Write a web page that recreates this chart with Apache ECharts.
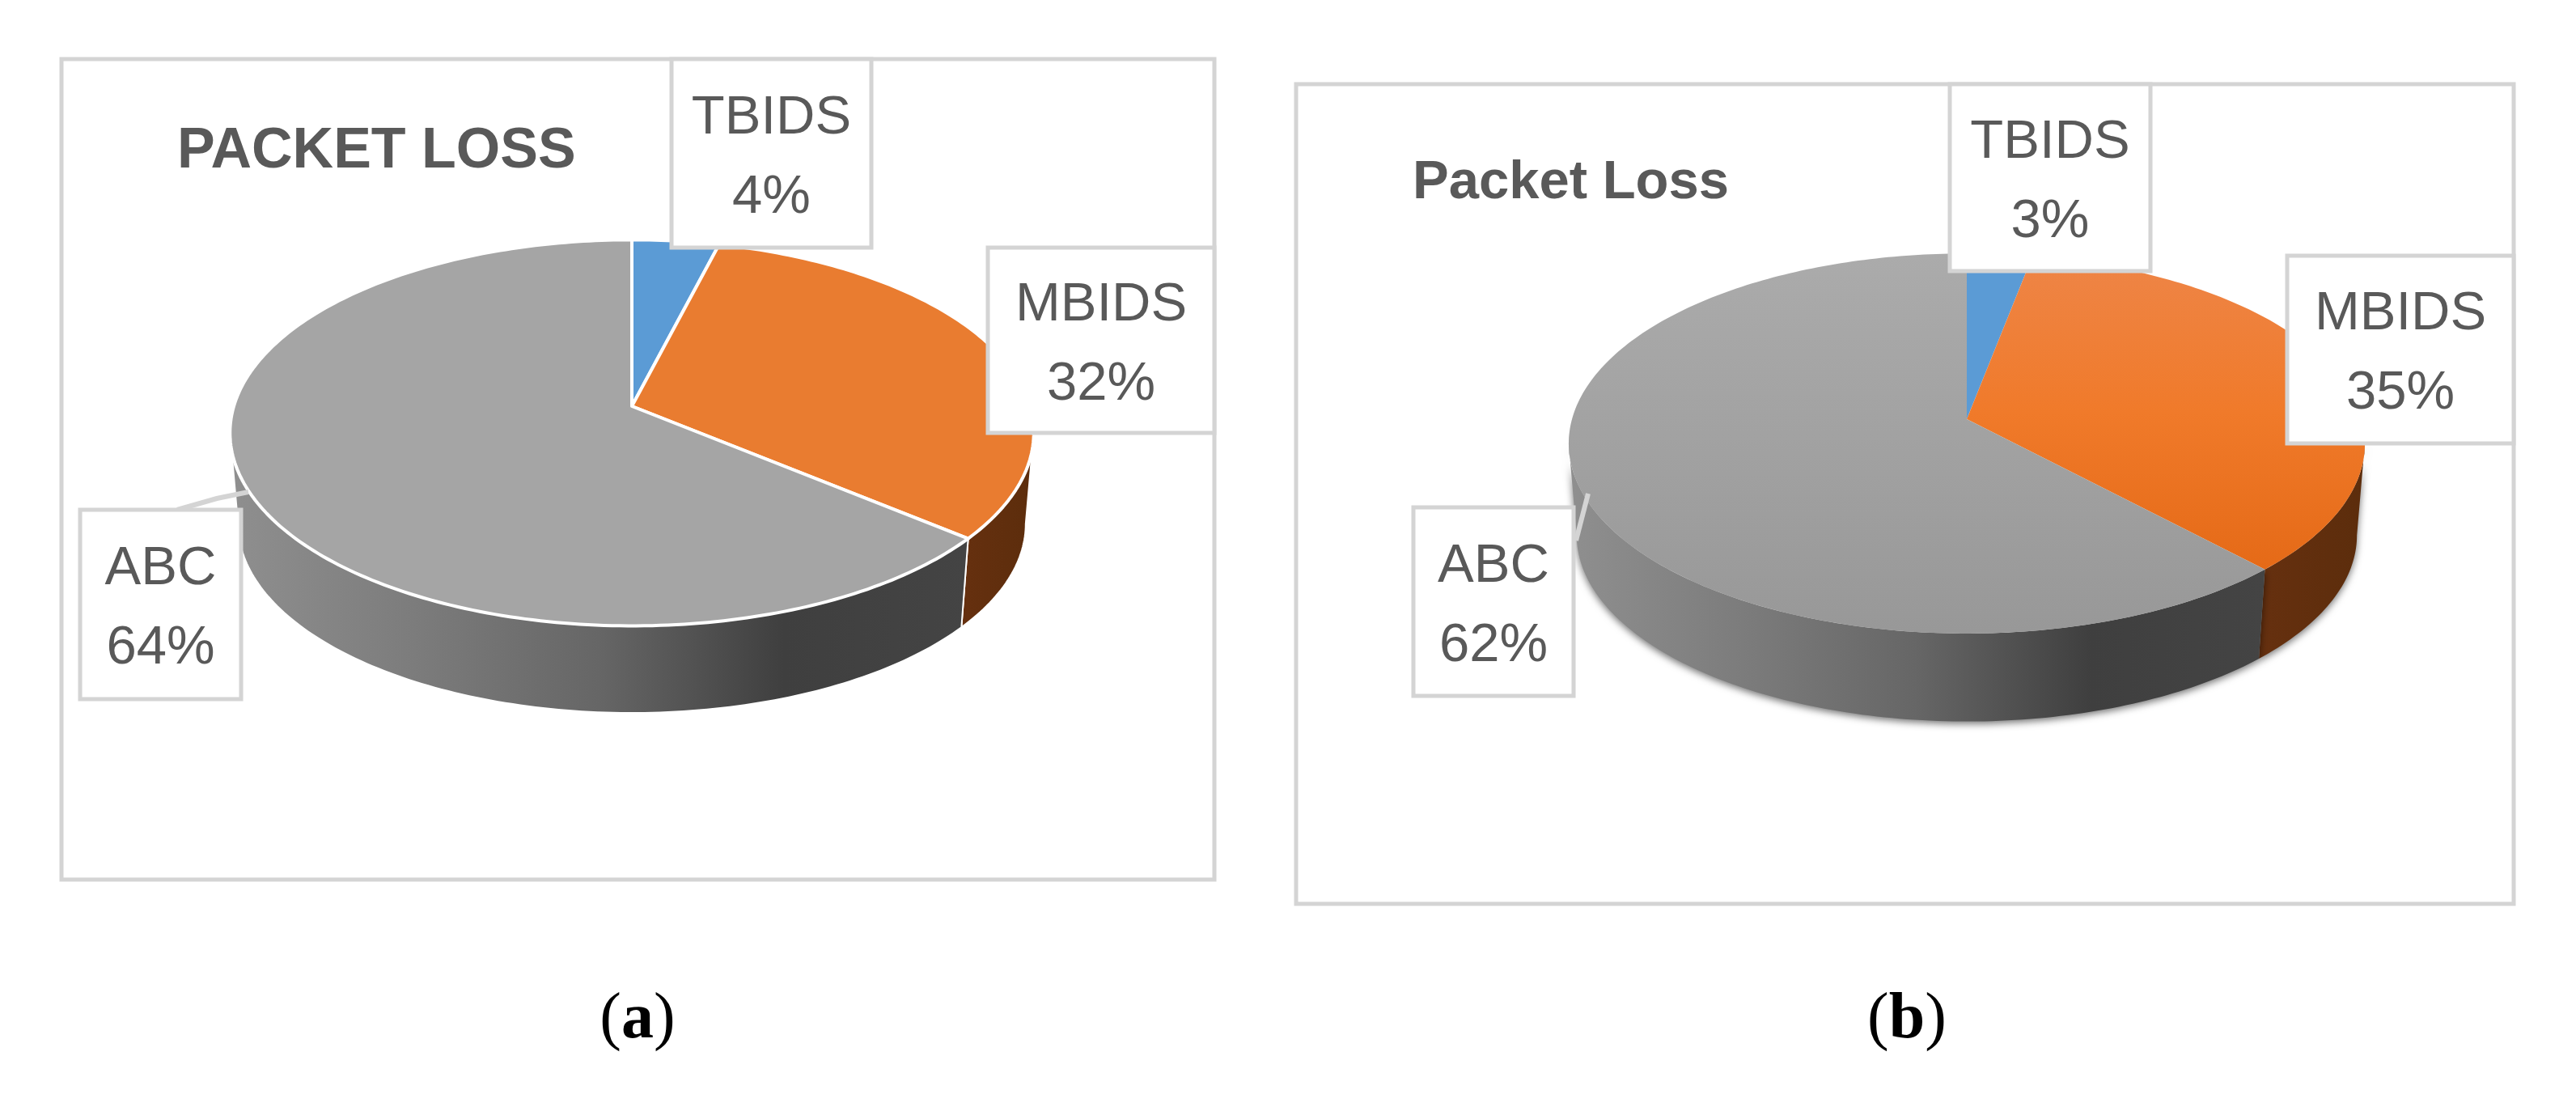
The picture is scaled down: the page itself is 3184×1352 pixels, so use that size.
<!DOCTYPE html>
<html>
<head>
<meta charset="utf-8">
<title>Packet Loss</title>
<script src="https://cdn.jsdelivr.net/npm/echarts@6/dist/echarts.min.js"></script>
<style>
  html, body { margin: 0; padding: 0; background: #fff; }
  #chart { width: 3184px; height: 1352px; }
</style>
</head>
<body>
<div id="chart"></div>
<script>
  // chart data
  const categories = ['TBIDS', 'MBIDS', 'ABC'];
  const lossA = [4, 32, 64];
  const lossB = [3, 35, 62];
  const titleA = 'PACKET LOSS';
  const titleB = 'Packet Loss';
  const captions = ['a', 'b'];

  const textGrey = '#595959';
  const boxGrey = '#d4d4d4';
  const labelFont = 'Liberation Sans';

  const grad = (x2, y2, stops) => new echarts.graphic.LinearGradient(0, 0, x2, y2,
    stops.map((c, i) => ({ offset: i / (stops.length - 1), color: c })));

  // layout of each panel. the pie is a projected circle, far side is foreshortened
  const panelA = {
    values: lossA, title: titleA, titleX: 219, titleY: 188, titleSize: 70,
    frame: [76, 73, 1425, 1014],
    ax: 781, ay: 502, A: 492, B: 234, k: 0.138, depth: 113,
    lineColor: '#fff', lineWidth: 4, shadow: 0,
    top: [['#5b9bd5', '#5b9bd5'], ['#e97c30', '#e97c30'], ['#a5a5a5', '#a5a5a5']],
    boxes: [[830, 73, 247, 233], [1221, 306, 280, 229], [99, 630, 199, 234]],
    leader: [[219, 630], [268, 616], [307, 608]],
    captionX: 788
  };
  const panelB = {
    values: lossB, title: titleB, titleX: 1746, titleY: 227, titleSize: 67,
    frame: [1602, 104, 1505, 1013],
    ax: 2431, ay: 518, A: 488, B: 231, k: 0.128, depth: 114,
    lineColor: null, lineWidth: 0, shadow: 10,
    top: [['#5b9bd5', '#5b9bd5'], ['#ee8547', '#f07a2a', '#e56a17'], ['#ababab', '#989898']],
    boxes: [[2410, 104, 248, 231], [2827, 316, 280, 232], [1747, 627, 198, 233]],
    leader: [[1948, 668], [1963, 610]],
    captionX: 2357
  };

  function project(p, deg, shift, shrink) {
    const t = deg * Math.PI / 180;
    const w = 1 + p.k * Math.cos(t);
    return [
      p.ax + p.A * shrink * Math.sin(t) / w,
      p.ay - p.B * shrink * Math.cos(t) / w + shift
    ];
  }

  function arcPoints(p, from, to, shift, shrink) {
    const pts = [];
    const n = Math.max(2, Math.ceil(Math.abs(to - from)));
    for (let i = 0; i <= n; i++) {
      pts.push(project(p, from + (to - from) * i / n, shift, shrink));
    }
    return pts;
  }

  function sliceAngles(values, idx) {
    const total = values.reduce((a, b) => a + b, 0);
    const before = values.slice(0, idx).reduce((a, b) => a + b, 0);
    return [before / total * 360, (before + values[idx]) / total * 360];
  }

  function topSeries(p) {
    return {
      type: 'custom',
      coordinateSystem: 'none',
      silent: true,
      z: 3,
      data: p.values.map((v, i) => [i, v]),
      renderItem: function (params, api) {
        const i = api.value(0);
        const ang = sliceAngles(p.values, i);
        const pts = [[p.ax, p.ay]].concat(arcPoints(p, ang[0], ang[1], 0, 1));
        return {
          type: 'polygon',
          shape: { points: pts },
          style: {
            fill: grad(0, 1, p.top[i]),
            stroke: p.lineColor,
            lineWidth: p.lineWidth,
            lineJoin: 'round'
          }
        };
      }
    };
  }

  function wallSeries(p) {
    const wallFill = [
      '#5b9bd5',
      grad(1, 0, ['#66300f', '#5c2d0c']),
      grad(1, 0, ['#8f8f8f', '#7c7c7c', '#666666', '#3f3f3f', '#444444'])
    ];
    const turn = Math.acos(-p.k) * 180 / Math.PI; // where the rim starts facing us
    return {
      type: 'custom',
      coordinateSystem: 'none',
      silent: true,
      z: 2,
      data: p.values.map((v, i) => [i, v]),
      renderItem: function (params, api) {
        const i = api.value(0);
        const ang = sliceAngles(p.values, i);
        const from = Math.max(ang[0], turn);
        const to = Math.min(ang[1], 360 - turn);
        if (to <= from) return null;
        const pts = arcPoints(p, from, to, 0, 1)
          .concat(arcPoints(p, to, from, p.depth, 0.98));
        return {
          type: 'polygon',
          shape: { points: pts },
          style: {
            fill: wallFill[i],
            stroke: p.lineColor,
            lineWidth: p.lineColor ? 2 : 0,
            shadowBlur: p.shadow,
            shadowColor: p.shadow ? 'rgba(0,0,0,.55)' : 'transparent',
            shadowOffsetY: p.shadow ? 3 : 0
          }
        };
      }
    };
  }

  function panelGraphics(p, c) {
    const els = [{
      type: 'rect', z: 1, silent: true,
      shape: { x: p.frame[0], y: p.frame[1], width: p.frame[2], height: p.frame[3] },
      style: { fill: '#fff', stroke: boxGrey, lineWidth: 5 }
    }, {
      type: 'text', z: 12, silent: true, x: p.titleX, y: p.titleY,
      style: {
        text: p.title, fill: textGrey, verticalAlign: 'middle',
        font: 'bold ' + p.titleSize + 'px "Liberation Sans"'
      }
    }, {
      type: 'polyline', z: 9, silent: true,
      shape: { points: p.leader },
      style: { fill: null, stroke: boxGrey, lineWidth: 6 }
    }, {
      type: 'text', z: 12, silent: true, x: p.captionX, y: 1261,
      style: {
        text: '{p|(}{b|' + c + '}{p|)}', align: 'center', verticalAlign: 'middle',
        rich: {
          p: { font: '80px "Liberation Serif"', fill: '#000' },
          b: { font: 'bold 80px "Liberation Serif"', fill: '#000' }
        }
      }
    }];
    p.boxes.forEach((b, i) => {
      els.push({
        type: 'rect', z: 10, silent: true,
        shape: { x: b[0], y: b[1], width: b[2], height: b[3] },
        style: { fill: '#fff', stroke: boxGrey, lineWidth: 5 }
      });
      els.push({
        type: 'text', z: 11, silent: true, x: b[0] + b[2] / 2, y: b[1] + b[3] / 2 + 6,
        style: {
          text: categories[i] + '\n' + p.values[i] + '%',
          align: 'center', verticalAlign: 'middle', fill: textGrey,
          font: '67px "' + labelFont + '"', lineHeight: 98
        }
      });
    });
    return els;
  }

  const chart = echarts.init(document.getElementById('chart'));
  chart.setOption({
    animation: false,
    backgroundColor: '#fff',
    graphic: panelGraphics(panelA, captions[0]).concat(panelGraphics(panelB, captions[1])),
    series: [wallSeries(panelA), topSeries(panelA), wallSeries(panelB), topSeries(panelB)]
  });
</script>
</body>
</html>
